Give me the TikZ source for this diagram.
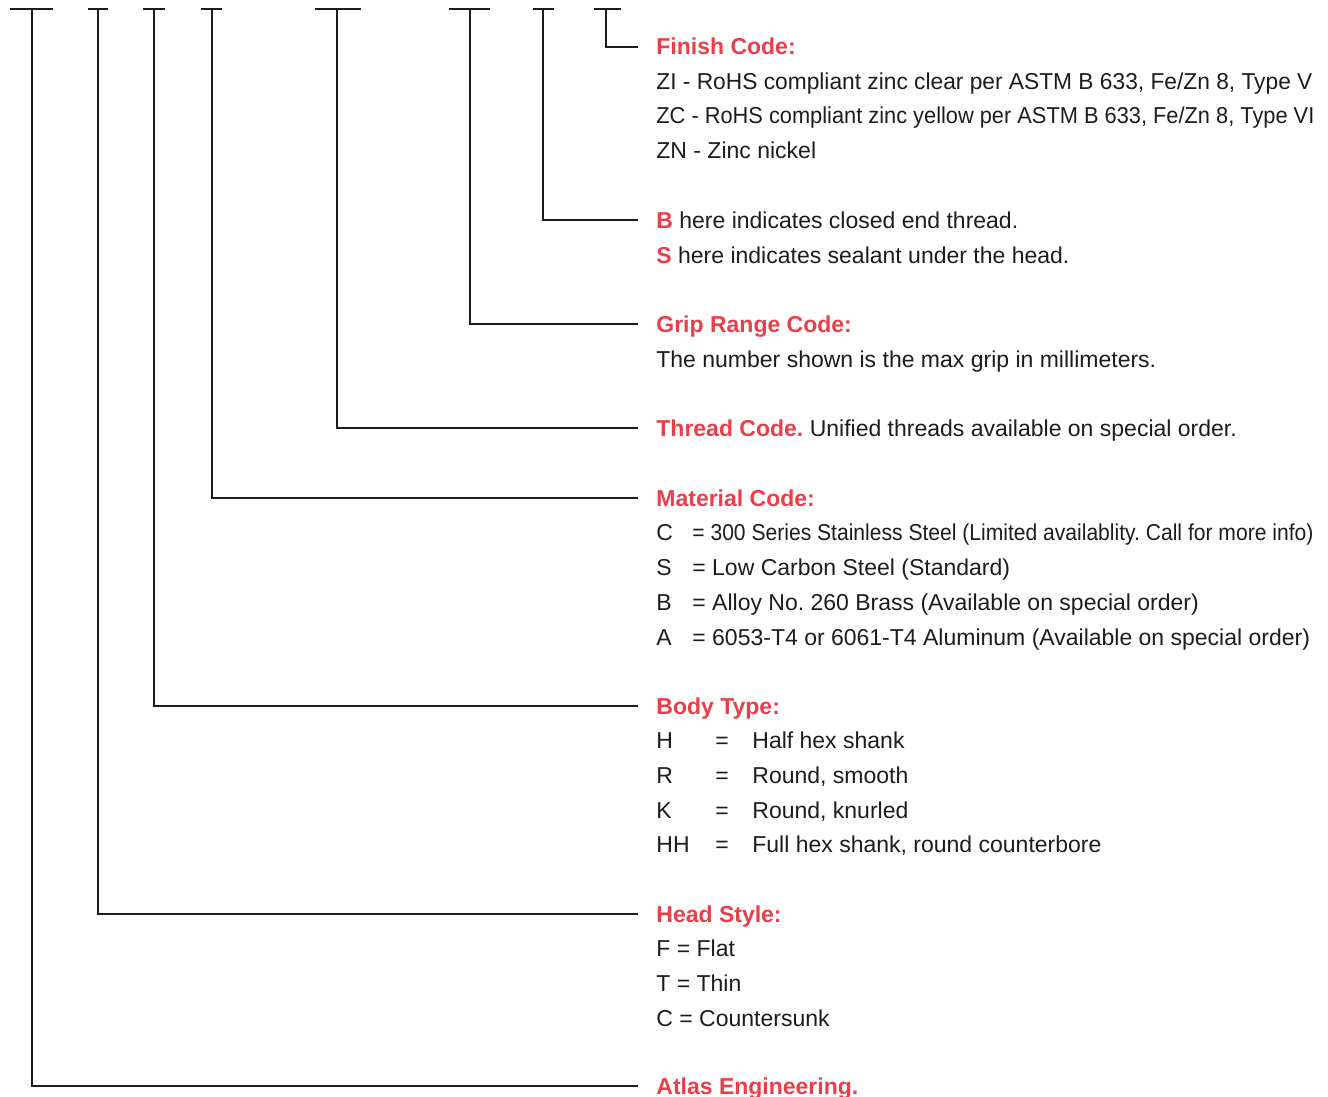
\documentclass[tikz,border=0pt]{standalone}
\usepackage{fontspec}
\usepackage{graphicx}
\setmainfont{Liberation Sans}
\frenchspacing
\definecolor{atred}{RGB}{234,62,72}
\definecolor{ink}{RGB}{28,28,28}
\newcommand{\fitto}[2]{\resizebox{#1}{\height}{#2}}
\begin{document}
\begin{tikzpicture}[x=0.5pt,y=-0.5pt,
  leader/.style={line width=1pt, draw=ink},
  head/.style={anchor=west, inner xsep=9pt, inner ysep=0pt, text height=8pt, text depth=0pt,
    text=atred, font=\fontsize{11.5pt}{13pt}\selectfont\bfseries},
  desc/.style={anchor=base west, inner sep=0pt, text=ink, font=\fontsize{11.5pt}{13pt}\selectfont}]
\useasboundingbox (0,0) rectangle (1328,1097);

% ---- labels ----
\node[head] (finish) at (638,47) {Finish Code:};
\node[desc] (fi1) at (656,90) {\fitto{328pt}{ZI - RoHS compliant zinc clear per ASTM B 633, Fe/Zn 8, Type V}};
\node[desc] (fi2) at (656,124) {\fitto{329pt}{ZC - RoHS compliant zinc yellow per ASTM B 633, Fe/Zn 8, Type VI}};
\node[desc] (fi3) at (656,159) {ZN - Zinc nickel};

\node[head] (bs) at (638,220) {B{\color{ink}\mdseries\ here indicates closed end thread.}};
\node[desc] (bs2) at (656,263) {{\color{atred}\bfseries S} here indicates sealant under the head.};

\node[head] (grip) at (638,324) {Grip Range Code:};
\node[desc] (gr1) at (656,367) {The number shown is the max grip in millimeters.};

\node[head] (thread) at (638,428) {Thread Code.{\color{ink}\mdseries\ Unified threads available on special order.}};

\node[head] (mat) at (638,498) {Material Code:};
\node[desc] (m1l) at (656,540) {C};
\node[desc] (m1t) at (692,540) {\fitto{310.5pt}{= 300 Series Stainless Steel (Limited availablity. Call for more info)}};
\node[desc] (m2l) at (656,575) {S};
\node[desc] (m2t) at (692,575) {= Low Carbon Steel (Standard)};
\node[desc] (m3l) at (656,610) {B};
\node[desc] (m3t) at (692,610) {= Alloy No. 260 Brass (Available on special order)};
\node[desc] (m4l) at (656,645) {A};
\node[desc] (m4t) at (692,645) {= 6053-T4 or 6061-T4 Aluminum (Available on special order)};

\node[head] (body) at (638,706) {Body Type:};
\node[desc] (b1l) at (656,748) {H};
\node[desc] (b1e) at (715,748) {=};
\node[desc] (b1t) at (752,748) {Half hex shank};
\node[desc] (b2l) at (656,783) {R};
\node[desc] (b2e) at (715,783) {=};
\node[desc] (b2t) at (752,783) {Round, smooth};
\node[desc] (b3l) at (656,818) {K};
\node[desc] (b3e) at (715,818) {=};
\node[desc] (b3t) at (752,818) {Round, knurled};
\node[desc] (b4l) at (656,852) {HH};
\node[desc] (b4e) at (715,852) {=};
\node[desc] (b4t) at (752,852) {Full hex shank, round counterbore};

\node[head] (headst) at (638,914) {Head Style:};
\node[desc] (h1) at (656,956) {F = Flat};
\node[desc] (h2) at (656,991) {T = Thin};
\node[desc] (h3) at (656,1026) {C = Countersunk};

\node[head] (atlas) at (638,1086) {Atlas Engineering.};

% ---- top tick coordinates ----
\coordinate (a1) at (10,9);  \coordinate (a2) at (53,9);  \coordinate (t1) at (32,9);
\coordinate (c1) at (88,9);  \coordinate (c2) at (108,9); \coordinate (t2) at (98,9);
\coordinate (d1) at (143,9); \coordinate (d2) at (165,9); \coordinate (t3) at (154,9);
\coordinate (e1) at (201,9); \coordinate (e2) at (222,9); \coordinate (t4) at (212,9);
\coordinate (f1) at (315,9); \coordinate (f2) at (361,9); \coordinate (t5) at (337,9);
\coordinate (g1) at (449,9); \coordinate (g2) at (490,9); \coordinate (t6) at (470,9);
\coordinate (h1c) at (533,9); \coordinate (h2c) at (554,9); \coordinate (t7) at (543,9);
\coordinate (i1) at (594,9); \coordinate (i2) at (621,9); \coordinate (t8) at (606,9);

% ---- bars ----
\draw[leader] (a1) -- (a2);
\draw[leader] (c1) -- (c2);
\draw[leader] (d1) -- (d2);
\draw[leader] (e1) -- (e2);
\draw[leader] (f1) -- (f2);
\draw[leader] (g1) -- (g2);
\draw[leader] (h1c) -- (h2c);
\draw[leader] (i1) -- (i2);

% ---- leaders ----
\draw[leader] (t1) |- (atlas.west);
\draw[leader] (t2) |- (headst.west);
\draw[leader] (t3) |- (body.west);
\draw[leader] (t4) |- (mat.west);
\draw[leader] (t5) |- (thread.west);
\draw[leader] (t6) |- (grip.west);
\draw[leader] (t7) |- (bs.west);
\draw[leader] (t8) |- (finish.west);
\end{tikzpicture}
\end{document}
